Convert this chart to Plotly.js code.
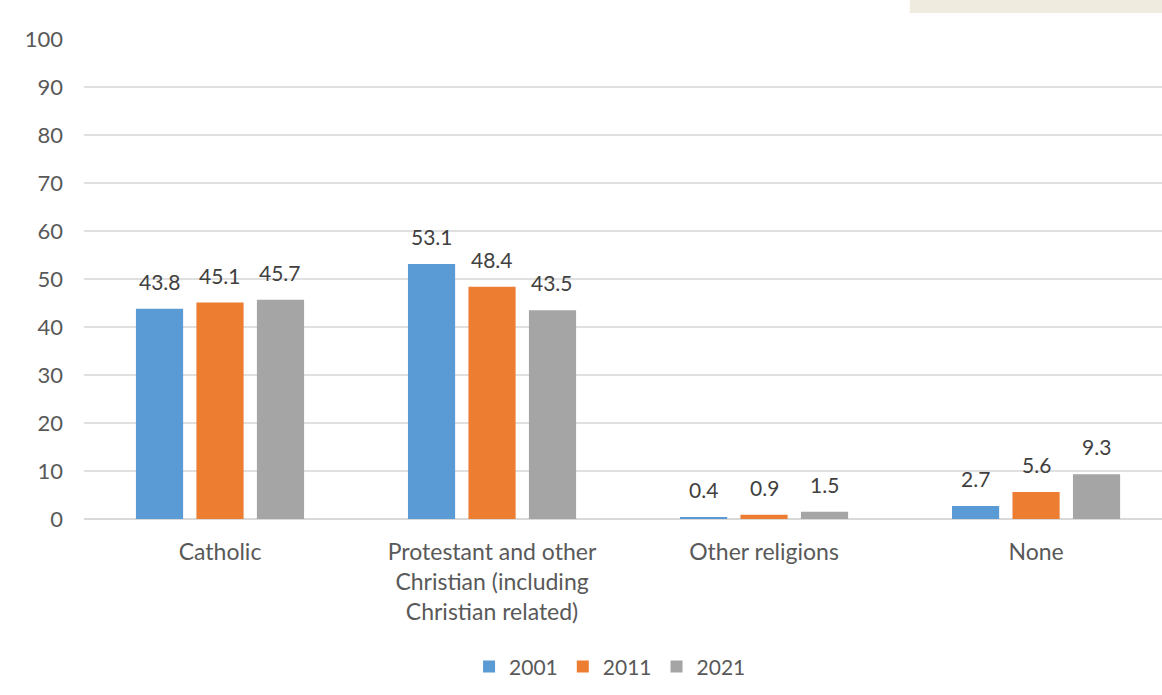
<!DOCTYPE html>
<html>
<head>
<meta charset="utf-8">
<script src="https://cdn.plot.ly/plotly-3.0.1.min.js"></script>
<style>
  html, body { margin: 0; padding: 0; background: #ffffff; }
  #chart { width: 1162px; height: 695px; }
</style>
</head>
<body>
<div id="chart"></div>
<script>
var categories = [
  "Catholic",
  "Protestant and other<br>Christian (including<br>Christian related)",
  "Other religions",
  "None"
];
var seriesNames = ["2001", "2011", "2021"];
var values2001 = [43.8, 53.1, 0.4, 2.7];
var values2011 = [45.1, 48.4, 0.9, 5.6];
var values2021 = [45.7, 43.5, 1.5, 9.3];
var seriesColors = ["#5B9BD5", "#ED7D31", "#A5A5A5"];
var yTicks = [0, 10, 20, 30, 40, 50, 60, 70, 80, 90, 100];

var FONT = "Lato, 'Open Sans', sans-serif";
var allValues = [values2001, values2011, values2021];

var W = 1162, H = 695;
var M = { l: 84, r: 0, t: 39, b: 176 };
var XRANGE = [-0.5, 3.463];
var BARGAP = 0.333;
var plotW = W - M.l - M.r;
var pxPerCat = plotW / (XRANGE[1] - XRANGE[0]);
var slotPx = pxPerCat * (1 - BARGAP) / allValues.length;

var traces = allValues.map(function (vals, i) {
  return {
    type: "bar",
    name: seriesNames[i],
    x: categories,
    y: vals,
    marker: { color: seriesColors[i] },
    hoverinfo: "x+y+name"
  };
});

var annotations = [];
allValues.forEach(function (vals, i) {
  vals.forEach(function (v, j) {
    annotations.push({
      x: categories[j],
      y: v,
      xref: "x",
      yref: "y",
      text: v.toFixed(1),
      showarrow: false,
      xanchor: "center",
      yanchor: "bottom",
      xshift: (i - (allValues.length - 1) / 2) * slotPx,
      yshift: 13,
      font: { family: FONT, size: 21, color: "#404040" }
    });
  });
});

var layout = {
  width: W,
  height: H,
  margin: { l: M.l, r: M.r, t: M.t, b: M.b, pad: 0 },
  paper_bgcolor: "#ffffff",
  plot_bgcolor: "#ffffff",
  font: { family: FONT, color: "#595959", size: 22 },
  barmode: "group",
  bargap: BARGAP,
  bargroupgap: 0.22,
  showlegend: true,
  legend: {
    orientation: "h",
    x: 0.488,
    xanchor: "center",
    y: -0.308,
    yanchor: "middle",
    font: { family: FONT, size: 21, color: "#595959" },
    itemwidth: 30,
    traceorder: "normal"
  },
  xaxis: {
    type: "category",
    range: XRANGE,
    showgrid: false,
    showline: false,
    zeroline: false,
    ticks: "",
    ticklabelstandoff: 17,
    tickfont: { family: FONT, size: 23, color: "#595959" },
    fixedrange: true
  },
  yaxis: {
    range: [0, 100],
    tickmode: "array",
    tickvals: yTicks,
    ticktext: yTicks.map(String),
    showgrid: true,
    gridcolor: "#e0e0e0",
    gridwidth: 1.5,
    zeroline: true,
    zerolinecolor: "#d9d9d9",
    zerolinewidth: 1.5,
    showline: false,
    ticks: "",
    ticklabelstandoff: 20,
    tickfont: { family: FONT, size: 22, color: "#595959" },
    fixedrange: true
  },
  annotations: annotations,
  shapes: [{
    type: "rect",
    xref: "paper", yref: "paper",
    x0: 0.766, x1: 1.0,
    y0: 1.054, y1: 1.082,
    fillcolor: "#F0EBDF",
    line: { width: 0 },
    layer: "below"
  }]
};

Plotly.newPlot("chart", traces, layout, { displayModeBar: false, staticPlot: true });
</script>
</body>
</html>
